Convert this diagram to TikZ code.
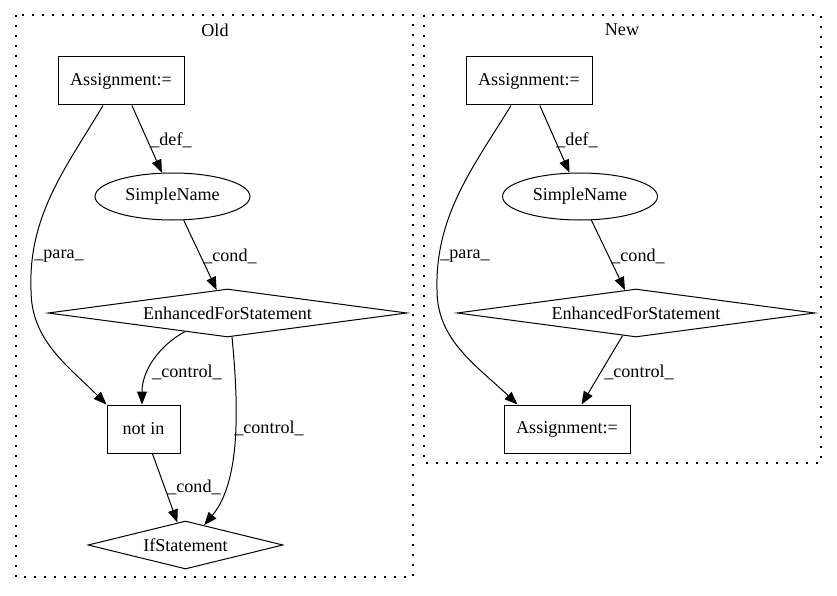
\documentclass[tikz,border=0pt]{standalone}
\usepackage{fontspec}
\setmainfont{Liberation Serif}
\usetikzlibrary{shapes.geometric,arrows.meta,calc}
\begin{document}
\begin{tikzpicture}[x=1pt,y=-1pt,
  every node/.style={font=\fontsize{18.1}{21}\selectfont, inner sep=0pt},
  box/.style={draw, line width=1pt, rectangle, minimum height=48pt},
  ell/.style={draw, ellipse, line width=1pt, minimum width=155pt, minimum height=47pt},
  dia/.style={draw, diamond, aspect=7, line width=1pt, minimum height=48pt},
  edge/.style={draw, line width=1pt, -{Triangle[length=13pt,width=10pt]}},
  cluster/.style={draw, line width=1.3pt, dash pattern=on 2pt off 8pt},
  lbl/.style={}
]
\useasboundingbox (0,0) rectangle (837,596);
\fill[white] (0,0) rectangle (837,596);

% clusters
\draw[cluster] (16,15) rectangle (413,577);
\draw[cluster] (424,15) rectangle (821,463);
\node[lbl] (tOld) at (215,30) {Old};
\node[lbl] (tNew) at (622,30) {New};

% Old nodes
\node[box, minimum width=126pt] (oa) at (121,81) {Assignment:=};
\node[ell] (os) at (172.5,196.5) {SimpleName};
\node[dia, minimum width=359pt] (oe) at (227.5,313) {EnhancedForStatement};
\node[box, minimum width=73pt] (on) at (143.5,429) {not in};
\node[dia, minimum width=195pt] (oi) at (185.5,545) {IfStatement};

% New nodes
\node[box, minimum width=126pt] (na) at (529,81) {Assignment:=};
\node[ell] (ns) at (580,196.5) {SimpleName};
\node[dia, minimum width=358pt] (ne) at (636,313) {EnhancedForStatement};
\node[box, minimum width=126pt] (nb) at (567,429) {Assignment:=};

% Old edges
\draw[edge] (oa) -- (os);
\draw[edge] (os) -- (oe);
\draw[edge] (on) -- (oi);
\draw[edge] ([xshift=-18pt]oa.south) .. controls (67,166) and (28,215) .. (31,290)
  .. controls (31,340) and (67,365) .. (on.north west);
\draw[edge] ($(oe.south)!0.237!(oe.west)$) .. controls (160,345) and (142,370) .. ([xshift=-1.5pt]on.north);
\draw[edge] ($(oe.south)!0.025!(oe.east)$) .. controls (238,400) and (242,480) .. ($(oi.north)!0.19!(oi.east)$);

\node[lbl] (l1) at (171,140) {\_def\_};
\node[lbl] (l2) at (59,256) {\_para\_};
\node[lbl] (l3) at (230,256) {\_cond\_};
\node[lbl] (l4) at (187,372) {\_control\_};
\node[lbl] (l5) at (269,428) {\_control\_};
\node[lbl] (l6) at (194,487) {\_cond\_};

% New edges
\draw[edge] (na) -- (ns);
\draw[edge] (ns) -- (ne);
\draw[edge] (ne) -- (nb);
\draw[edge] ([xshift=-18pt]na.south) .. controls (474,166) and (435,215) .. (437,290)
  .. controls (437,340) and (476,365) .. ([xshift=14pt]nb.north west);

\node[lbl] (m1) at (577,140) {\_def\_};
\node[lbl] (m2) at (465,256) {\_para\_};
\node[lbl] (m3) at (638,256) {\_cond\_};
\node[lbl] (m4) at (639,372) {\_control\_};
\end{tikzpicture}
\end{document}
